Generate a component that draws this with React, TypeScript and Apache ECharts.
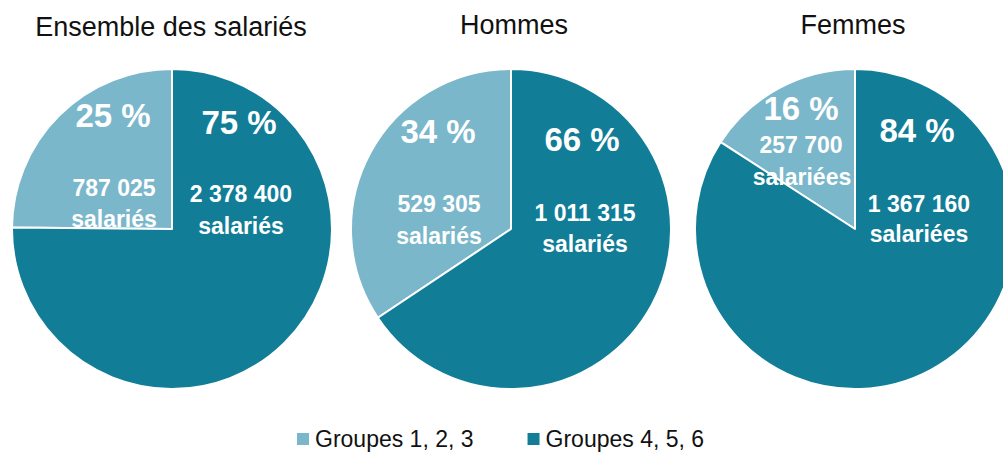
import React, { useEffect, useRef } from "react";
import * as echarts from "echarts";

// ---- data ----
const groups = ["Groupes 1, 2, 3", "Groupes 4, 5, 6"];
const panels = ["Ensemble des salariés", "Hommes", "Femmes"];
const unitLabels = ["salariés", "salariés", "salariées"];
const groups123 = [787025, 529305, 257700];
const groups456 = [2378400, 1011315, 1367160];

// ---- styling / layout ----
const LIGHT = "#7bb7ca";
const DARK = "#117d97";
const centers: [number, number][] = [
  [172, 229],
  [511, 229],
  [855, 229],
];
const titlePos: [number, number][] = [
  [171, 27],
  [514, 25],
  [853, 25],
];
// label positions: [pctLight, countLight, unitLight, pctDark, countDark, unitDark]
const labelPos: [number, number][][] = [
  [[113, 115], [114, 188], [114, 219], [239, 122], [241, 194], [241, 226]],
  [[438, 131], [439, 204], [439, 236], [582, 139], [585, 213], [585, 244]],
  [[801, 108], [801, 145], [802, 177], [917, 130], [919, 204], [919, 234]],
];

const fmt = (n: number) => String(n).replace(/\B(?=(\d{3})+(?!\d))/g, " ");
const FONT = "'Liberation Sans', Arial, Helvetica, sans-serif";

export default function App() {
  const ref = useRef<HTMLDivElement>(null);
  useEffect(() => {
    if (!ref.current) return;
    const chart = echarts.init(ref.current, null, { renderer: "svg" });
    const series: any[] = panels.map((p, i) => ({
      type: "pie",
      name: p,
      center: centers[i],
      radius: 160,
      startAngle: 90,
      clockwise: false,
      silent: true,
      label: { show: false },
      labelLine: { show: false },
      itemStyle: { borderColor: "#ffffff", borderWidth: 2 },
      data: [
        { name: groups[0], value: groups123[i], itemStyle: { color: LIGHT } },
        { name: groups[1], value: groups456[i], itemStyle: { color: DARK } },
      ],
    }));
    const graphics: any[] = [];
    panels.forEach((p, i) => {
      graphics.push({
        type: "text",
        x: titlePos[i][0],
        y: titlePos[i][1],
        style: {
          text: p,
          fill: "#111",
          font: `27px ${FONT}`,
          textAlign: "center",
          textVerticalAlign: "middle",
        },
      });
      const total = groups123[i] + groups456[i];
      const pl = Math.round((groups123[i] / total) * 100);
      const pd = Math.round((groups456[i] / total) * 100);
      const texts: [string, number][] = [
        [`${pl} %`, 33],
        [fmt(groups123[i]), 23],
        [unitLabels[i], 23],
        [`${pd} %`, 33],
        [fmt(groups456[i]), 23],
        [unitLabels[i], 23],
      ];
      texts.forEach(([t, size], k) => {
        graphics.push({
          type: "text",
          x: labelPos[i][k][0],
          y: labelPos[i][k][1],
          z: 10,
          style: {
            text: t,
            fill: "#ffffff",
            font: `bold ${size}px ${FONT}`,
            textAlign: "center",
            textVerticalAlign: "middle",
          },
        });
      });
    });
    chart.setOption({
      animation: false,
      legend: {
        data: groups,
        left: 295,
        top: 427,
        padding: 0,
        icon: "rect",
        itemWidth: 14,
        itemHeight: 14,
        itemGap: 52,
        selectedMode: false,
        textStyle: { fontFamily: FONT, fontSize: 23, lineHeight: 24, color: "#111", padding: [0, 0, 0, 0] },
      },
      series,
      graphic: graphics,
    });
    return () => chart.dispose();
  }, []);
  return (
    <div
      ref={ref}
      style={{ position: "fixed", left: 0, top: 0, width: 1003, height: 453, background: "#fff" }}
    />
  );
}
